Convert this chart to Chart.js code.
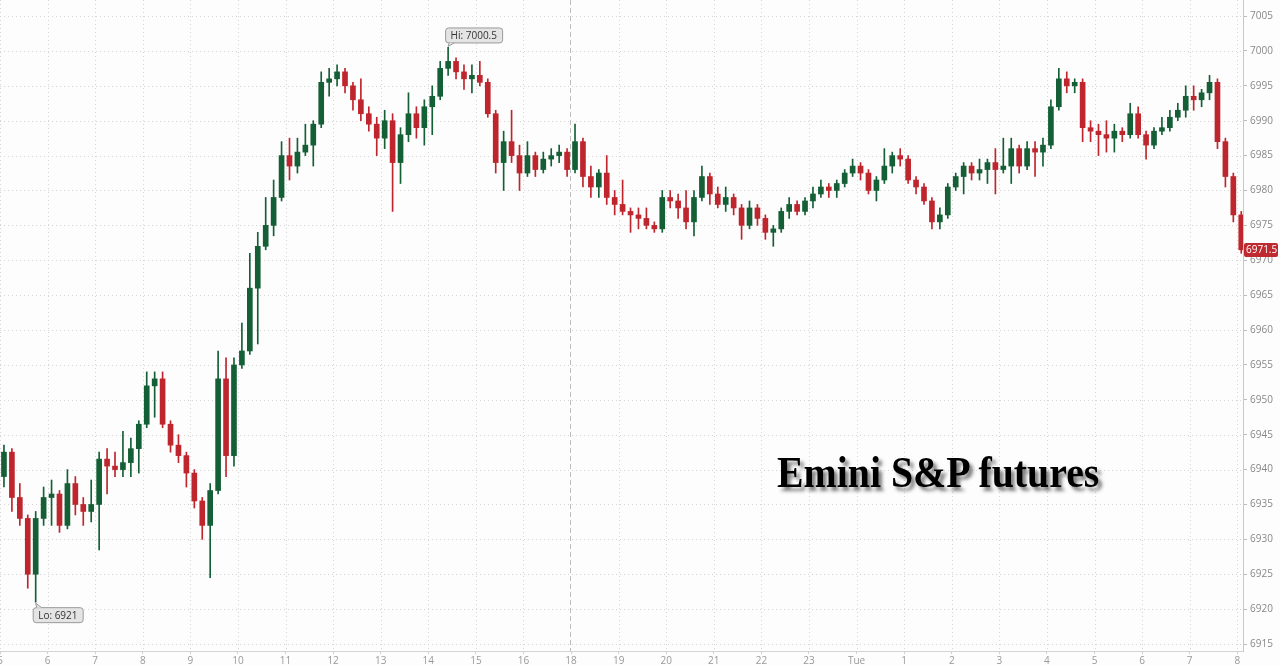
<!DOCTYPE html>
<html>
<head>
<meta charset="utf-8">
<script src="https://cdn.jsdelivr.net/npm/chart.js@4"></script>
<style>
  html, body { margin: 0; padding: 0; background: #fdfdfd; }
  #wrap { position: relative; width: 1280px; height: 666px; overflow: hidden; }
  #title {
    position: absolute; left: 777px; top: 450px;
    font: bold 45px 'Liberation Serif', 'Times New Roman', serif;
    line-height: 45px; color: #000; white-space: nowrap;
    transform: scaleX(0.885); transform-origin: 0 0;
    text-shadow: 4px 4px 4px rgba(0, 0, 0, 0.5);
  }
</style>
</head>
<body>
<div id="wrap">
  <canvas id="chart" width="1280" height="666"></canvas>
  <div id="title">Emini S&amp;P futures</div>
</div>
<script>
// session hours on the x axis (17:00-18:00 is the daily break)
const hourLabels = ['5', '6', '7', '8', '9', '10', '11', '12', '13', '14', '15', '16',
    '18', '19', '20', '21', '22', '23', 'Tue', '1', '2', '3', '4', '5', '6', '7', '8'];
const yTicks = [6915, 6920, 6925, 6930, 6935, 6940, 6945, 6950, 6955, 6960,
    6965, 6970, 6975, 6980, 6985, 6990, 6995, 7000, 7005];

// 10-minute bars, six per session hour (one row per hour)
const opens = [
    6939, 6942.5, 6936, 6933, 6925, 6933,
    6936, 6936.5, 6932, 6938, 6935, 6934,
    6935, 6941.5, 6940.5, 6940, 6941, 6943,
    6946.5, 6952, 6953, 6946.5, 6943.5, 6942,
    6939.5, 6935.5, 6932, 6937, 6953, 6942,
    6955, 6957, 6966, 6972, 6975, 6979,
    6985, 6983.5, 6985.5, 6986.5, 6989.5, 6995.5,
    6996, 6997, 6995, 6993, 6991, 6989.5,
    6987.5, 6990, 6984, 6988, 6991, 6989,
    6992, 6993.5, 6997.5, 6998.5, 6997, 6996,
    6996.5, 6995.5, 6991, 6984, 6987, 6985,
    6982.5, 6985, 6983, 6984.5, 6985, 6985.5,
    6983, 6987, 6982, 6980.5, 6982.5, 6979,
    6978, 6977, 6976.5, 6976, 6975, 6974.5,
    6979, 6978.5, 6977.5, 6975.5, 6979, 6982,
    6979.5, 6978, 6979, 6977.5, 6975, 6977.5,
    6976, 6974, 6974.5, 6977, 6978, 6977,
    6978.5, 6979.5, 6980.5, 6980, 6981, 6982.5,
    6983.5, 6982.5, 6980, 6981.5, 6983.5, 6985,
    6984.5, 6981.5, 6980.5, 6978.5, 6975.5, 6976.5,
    6980.5, 6982, 6983.5, 6982.5, 6983, 6984,
    6983, 6983.5, 6986, 6983.5, 6986, 6985.5,
    6986.5, 6992, 6996, 6995, 6995.5, 6989,
    6988.5, 6988, 6987.5, 6988.5, 6988, 6991,
    6988, 6986.5, 6988.5, 6989, 6990.5, 6991.5,
    6993.5, 6993, 6994, 6995.5, 6987, 6982,
    6976.5
];
const highs = [
    6943.5, 6943, 6938, 6933.5, 6934, 6937.5,
    6938.5, 6937, 6940, 6939, 6936, 6938.5,
    6942.5, 6943, 6942.5, 6945.5, 6944.5, 6947,
    6954, 6954, 6954, 6947, 6945, 6942.5,
    6940, 6936, 6938, 6957, 6956, 6956,
    6961, 6971, 6974, 6979, 6981.5, 6987,
    6987.5, 6987.5, 6989.5, 6990, 6997, 6997.5,
    6998, 6997.5, 6995.5, 6996, 6992, 6990.5,
    6991.5, 6991, 6989, 6994, 6992, 6993,
    6995, 6998.5, 7000.5, 6999, 6998, 6998,
    6998.5, 6996, 6991.5, 6988.5, 6991.5, 6986.5,
    6987, 6985.5, 6985.5, 6986, 6986.5, 6986,
    6989.5, 6987.5, 6983.5, 6983, 6985, 6980,
    6981.5, 6977.5, 6977.5, 6977.5, 6975.5, 6980,
    6980, 6979.5, 6980, 6980, 6983.5, 6982.5,
    6980.5, 6980.5, 6979.5, 6978, 6978.5, 6978,
    6976.5, 6975, 6977.5, 6979, 6978.5, 6979,
    6980.5, 6981.5, 6981, 6981.5, 6983, 6984.5,
    6984, 6983, 6982, 6986, 6985.5, 6986,
    6985, 6982, 6981, 6979, 6977.5, 6981,
    6982.5, 6984, 6984, 6984.5, 6984.5, 6986,
    6987.5, 6987.5, 6986.5, 6987, 6987, 6987.5,
    6993, 6997.5, 6997, 6996, 6996, 6990,
    6989.5, 6990, 6989.5, 6989, 6992.5, 6992,
    6988.5, 6989, 6990.5, 6991.5, 6992.5, 6995,
    6995, 6994.5, 6996.5, 6996, 6987.5, 6982.5,
    6977
];
const lows = [
    6937.5, 6934, 6932, 6923, 6921, 6932,
    6932, 6931, 6931.5, 6933.5, 6932, 6932.5,
    6928.5, 6936.5, 6939, 6939, 6939, 6939.5,
    6946, 6947.5, 6946, 6942.5, 6941, 6937.5,
    6934.5, 6930, 6924.5, 6936.5, 6939, 6940.5,
    6954.5, 6956.5, 6958, 6971.5, 6973.5, 6978.5,
    6981.5, 6982.5, 6985, 6983.5, 6989, 6993.5,
    6995, 6994, 6991.5, 6990, 6988.5, 6985,
    6986, 6977, 6981, 6987, 6987.5, 6986.5,
    6988, 6993, 6996.5, 6996, 6994.5, 6994,
    6995, 6990.5, 6982.5, 6980, 6984, 6980,
    6982, 6982, 6982.5, 6983.5, 6984, 6982,
    6982.5, 6980.5, 6979, 6979, 6978, 6976.5,
    6976.5, 6974, 6974.5, 6974.5, 6974, 6974,
    6977.5, 6976, 6974.5, 6973.5, 6978.5, 6978,
    6977.5, 6977, 6976.5, 6973, 6974.5, 6975,
    6973, 6972, 6974, 6976, 6976.5, 6976.5,
    6977.5, 6979, 6979, 6979, 6980.5, 6982,
    6981.5, 6979.5, 6978.5, 6981, 6982.5, 6983.5,
    6981, 6979.5, 6978, 6974.5, 6974.5, 6976,
    6980, 6979.5, 6981.5, 6981.5, 6981, 6979.5,
    6982.5, 6981, 6982.5, 6983, 6982, 6983.5,
    6986, 6991.5, 6994, 6994, 6987, 6987,
    6985, 6985.5, 6985.5, 6987, 6987.5, 6987.5,
    6984.5, 6986, 6988, 6988.5, 6990, 6990.5,
    6991.5, 6992, 6993, 6986, 6980.5, 6975.5,
    6971
];
const closes = [
    6942.5, 6936, 6933, 6925, 6933, 6936,
    6936.5, 6932, 6938, 6935, 6934, 6935,
    6941.5, 6940.5, 6940, 6941, 6943, 6946.5,
    6952, 6953, 6946.5, 6943.5, 6942, 6939.5,
    6935.5, 6932, 6937, 6953, 6942, 6955,
    6957, 6966, 6972, 6975, 6979, 6985,
    6983.5, 6985.5, 6986.5, 6989.5, 6995.5, 6996,
    6997, 6995, 6993, 6991, 6989.5, 6987.5,
    6990, 6984, 6988, 6991, 6989, 6992,
    6993.5, 6997.5, 6998.5, 6997, 6996, 6996.5,
    6995.5, 6991, 6984, 6987, 6985, 6982.5,
    6985, 6983, 6984.5, 6985, 6985.5, 6983,
    6987, 6982, 6980.5, 6982.5, 6979, 6978,
    6977, 6976.5, 6976, 6975, 6974.5, 6979,
    6978.5, 6977.5, 6975.5, 6979, 6982, 6979.5,
    6978, 6979, 6977.5, 6975, 6977.5, 6976,
    6974, 6974.5, 6977, 6978, 6977, 6978.5,
    6979.5, 6980.5, 6980, 6981, 6982.5, 6983.5,
    6982.5, 6980, 6981.5, 6983.5, 6985, 6984.5,
    6981.5, 6980.5, 6978.5, 6975.5, 6976.5, 6980.5,
    6982, 6983.5, 6982.5, 6983, 6984, 6983,
    6983.5, 6986, 6983.5, 6986, 6985.5, 6986.5,
    6992, 6996, 6995, 6995.5, 6989, 6988.5,
    6988, 6987.5, 6988.5, 6988, 6991, 6988,
    6986.5, 6988.5, 6989, 6990.5, 6991.5, 6993.5,
    6993, 6994, 6995.5, 6987, 6982, 6976.5,
    6971.5
];

const UP = '#145f35';
const DOWN = '#bf252d';
const SESSION_BREAK = hourLabels.indexOf('18');

function barX(i) {
    return (i + 0.5) / 6;
}

const colors = closes.map((c, i) => c >= opens[i] ? UP : DOWN);
const bodies = closes.map((c, i) => ({ x: barX(i), y: [opens[i], c] }));
const wicks = closes.map((c, i) => ({ x: barX(i), y: [lows[i], highs[i]] }));

// dotted grid + dashed session break
const gridLines = {
    id: 'gridLines',
    beforeDatasetsDraw(chart) {
        const { ctx, chartArea: a, scales: { x, y } } = chart;
        ctx.save();
        ctx.lineWidth = 1;
        ctx.strokeStyle = '#d6d6d6';
        ctx.setLineDash([1, 3]);
        y.ticks.forEach(t => {
            const py = Math.round(y.getPixelForValue(t.value)) + 0.5;
            ctx.beginPath();
            ctx.moveTo(a.left, py);
            ctx.lineTo(a.right, py);
            ctx.stroke();
        });
        x.ticks.forEach(t => {
            if (t.value === SESSION_BREAK) return;
            const px = Math.round(x.getPixelForValue(t.value)) + 0.5;
            ctx.beginPath();
            ctx.moveTo(px, a.top);
            ctx.lineTo(px, a.bottom);
            ctx.stroke();
        });
        const bx = Math.round(x.getPixelForValue(SESSION_BREAK)) - 0.5;
        ctx.strokeStyle = '#bdbdbd';
        ctx.setLineDash([5, 3]);
        ctx.beginPath();
        ctx.moveTo(bx, a.top);
        ctx.lineTo(bx, a.bottom);
        ctx.stroke();
        ctx.restore();
    }
};

function callout(ctx, text, px, py, above) {
    ctx.font = '10px "Open Sans", sans-serif';
    const w = Math.ceil(ctx.measureText(text).width) + 10;
    const h = 15;
    const left = px - 3;
    const top = above ? py - 5 - h : py + 5;
    ctx.fillStyle = '#e4e4e4';
    ctx.strokeStyle = '#9a9a9a';
    ctx.lineWidth = 1;
    ctx.beginPath();
    ctx.roundRect(left + 0.5, top + 0.5, w, h, 3);
    ctx.fill();
    ctx.stroke();
    // pointer
    const edge = above ? top + h + 0.5 : top + 0.5;
    ctx.beginPath();
    ctx.moveTo(px + 1, edge);
    ctx.lineTo(px, above ? py - 1 : py + 1);
    ctx.lineTo(px + 6, edge);
    ctx.closePath();
    ctx.fill();
    ctx.beginPath();
    ctx.moveTo(px + 1, edge);
    ctx.lineTo(px, above ? py - 1 : py + 1);
    ctx.lineTo(px + 6, edge);
    ctx.stroke();
    ctx.fillStyle = '#333';
    ctx.textBaseline = 'middle';
    ctx.textAlign = 'left';
    ctx.fillText(text, left + 5.5, top + h / 2 + 1);
}

const marks = {
    id: 'marks',
    afterDatasetsDraw(chart) {
        const { ctx, chartArea: a, scales: { x, y } } = chart;
        const hi = Math.max(...highs);
        const lo = Math.min(...lows);
        ctx.save();
        callout(ctx, 'Hi: ' + hi, x.getPixelForValue(barX(highs.indexOf(hi))), y.getPixelForValue(hi), true);
        callout(ctx, 'Lo: ' + lo, x.getPixelForValue(barX(lows.indexOf(lo))), y.getPixelForValue(lo), false);

        // last price tag on the axis
        const last = closes[closes.length - 1];
        const ly = Math.round(y.getPixelForValue(last));
        ctx.fillStyle = '#bf2a30';
        ctx.beginPath();
        ctx.roundRect(a.right + 1, ly - 7, 34, 14, 2);
        ctx.fill();
        ctx.fillStyle = '#fff';
        ctx.font = '10px "Open Sans", sans-serif';
        ctx.textBaseline = 'middle';
        ctx.textAlign = 'left';
        ctx.fillText(last.toFixed(1), a.right + 3, ly + 0.5);
        ctx.restore();
    }
};

Chart.defaults.font.family = '"Open Sans", sans-serif';
Chart.defaults.font.size = 10;
Chart.defaults.color = '#888';

new Chart(document.getElementById('chart'), {
    type: 'bar',
    data: {
        datasets: [
            {
                label: 'Wick',
                data: wicks,
                backgroundColor: colors,
                barThickness: 1,
                grouped: false,
                order: 2
            },
            {
                label: 'Body',
                data: bodies,
                backgroundColor: colors,
                barThickness: 5,
                minBarLength: 1,
                grouped: false,
                order: 1
            }
        ]
    },
    options: {
        responsive: false,
        animation: false,
        layout: { padding: 0 },
        plugins: {
            legend: { display: false },
            tooltip: { enabled: false }
        },
        scales: {
            x: {
                type: 'linear',
                min: 0,
                max: 26.12,
                offset: false,
                grid: { offset: false, drawOnChartArea: false, tickLength: 3, tickColor: '#cfcfcf' },
                border: { color: '#d4d4d4' },
                ticks: {
                    autoSkip: false,
                    maxRotation: 0,
                    padding: 1,
                    color: '#999',
                    callback: v => hourLabels[v] ?? ''
                },
                afterBuildTicks: s => { s.ticks = hourLabels.map((l, i) => ({ value: i })); },
                afterFit: s => { s.height = 15; s.paddingLeft = 0; s.paddingRight = 0; }
            },
            y: {
                position: 'right',
                min: 6914.0,
                max: 7007.3,
                grid: { drawOnChartArea: false, tickLength: 4, tickColor: '#bbb' },
                border: { color: '#c8c8c8' },
                ticks: {
                    padding: 3,
                    color: '#888',
                    callback: v => String(v)
                },
                afterBuildTicks: s => { s.ticks = yTicks.map(v => ({ value: v })); },
                afterFit: s => { s.width = 37; s.paddingTop = 0; s.paddingBottom = 0; }
            }
        }
    },
    plugins: [gridLines, marks]
});
</script>
</body>
</html>
